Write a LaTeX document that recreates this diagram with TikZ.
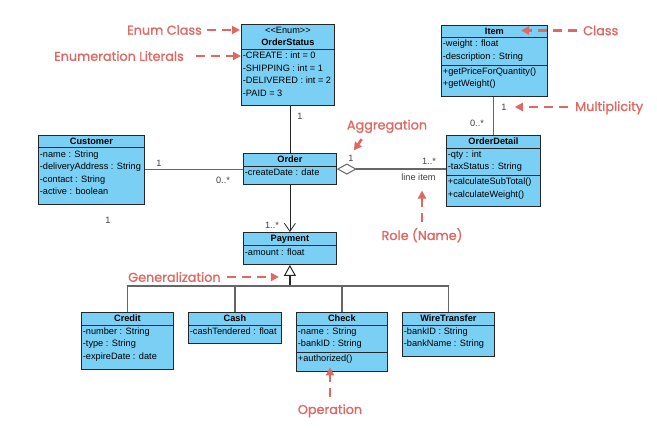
\documentclass[tikz,border=0pt]{standalone}
\usepackage{fontspec}
\setmainfont{Liberation Sans}
\newfontfamily\notefont[FakeBold=1.2]{Poppins}
\usetikzlibrary{shapes.multipart,arrows.meta,positioning}

\definecolor{classfill}{RGB}{122,207,245}
\definecolor{noteline}{RGB}{224,104,98}

% struts for the compartments
\newcommand\hs{\rule[-0.8pt]{0pt}{6.8pt}}
\newcommand\ls{\rule[-2.8pt]{0pt}{8.2pt}}
\newcommand\lls{\rule[-6.8pt]{0pt}{8.2pt}}
\newcommand\stereo{<\kern0pt<Enum>\kern0pt>}

\tikzset{
  umlclass/.style={
    % The shape:
    rectangle split,
    rectangle split parts=2,
    rectangle split part align={center,left,left},
    % The size:
    minimum width=93pt,
    inner xsep=1.5pt,inner ysep=2.2pt,
    % The border:
    draw=black!85,line width=0.8pt,
    % The filling:
    fill=classfill,
    % The text:
    align=left,font=\fontsize{9.2}{12.6}\selectfont,
    anchor=north west},
  mult/.style={
    font=\fontsize{9.2}{11}\selectfont,
    text=black!75,inner sep=0pt},
  note/.style={
    font=\notefont\fontsize{12.8}{15}\selectfont,
    text=noteline,inner sep=0pt},
  notearrow/.style={
    draw=noteline,line width=2.6pt,
    dash pattern=on 9pt off 6pt,
    -{Triangle[length=8pt,width=8pt]}},
  assoc/.style={draw=black!60,line width=1.2pt},
  link/.style={draw=black!85,line width=0.8pt}
}

\begin{document}
\begin{tikzpicture}[x=1pt,y=-1pt]
  \path[use as bounding box,fill=white] (0,0) rectangle (657,443);

  % the classes
  \node (status) [umlclass] at (241,24)
    {\makebox[90pt]{\hs\stereo}\\ \makebox[90pt]{\textbf{OrderStatus}\hs}
     \nodepart{two}\ls-CREATE : int = 0\\
     -SHIPPING : int = 1\\
     -DELIVERED : int = 2\\
     -PAID = 3\lls};
  \node (item) [umlclass,rectangle split parts=3,minimum width=106pt] at (441,25)
    {\hs\textbf{Item}
     \nodepart{two}\ls-weight : float\\
     -description : String\ls
     \nodepart{three}\ls+getPriceForQuantity()\\
     +getWeight()\lls};
  \node (customer) [umlclass,minimum width=106pt] at (38,135)
    {\hs\textbf{Customer}
     \nodepart{two}\ls-name : String\\
     -deliveryAddress : String\\
     -contact : String\\
     -active : boolean\lls};
  \node (order) [umlclass] at (243,153)
    {\hs\textbf{Order}
     \nodepart{two}\lls-createDate : date};
  \node (detail) [umlclass,rectangle split parts=3,minimum width=94pt] at (446,135)
    {\hs\textbf{OrderDetail}
     \nodepart{two}\ls-qty : int\\
     -taxStatus : String\ls
     \nodepart{three}\ls+calculateSubTotal()\\
     +calculateWeight()\lls};
  \node (payment) [umlclass] at (243,232)
    {\hs\textbf{Payment}
     \nodepart{two}\lls-amount : float};
  \node (credit) [umlclass,minimum width=92pt] at (81,312)
    {\hs\textbf{Credit}
     \nodepart{two}\ls-number : String\\
     -type : String\\
     -expireDate : date\lls};
  \node (cash) [umlclass] at (188,312)
    {\hs\textbf{Cash}
     \nodepart{two}\lls-cashTendered : float};
  \node (check) [umlclass,rectangle split parts=3,minimum width=91pt] at (296,312)
    {\hs\textbf{Check}
     \nodepart{two}\ls-name : String\\
     -bankID : String\ls
     \nodepart{three}\lls+authorized()};
  \node (wire) [umlclass,minimum width=92pt] at (402,312)
    {\hs\textbf{WireTransfer}
     \nodepart{two}\ls-bankID : String\\
     -bankName : String\lls};

  % the relations
  \draw[link] (order.north) -- (order.north |- status.south);
  \draw[assoc] (detail.north) -- (detail.north |- item.south);
  \draw[assoc] (customer.east) -- (customer.east -| order.west);
  \draw[assoc,{Diamond[open,length=20pt,width=11pt,line width=1pt]}-]
    (order.east) -- (order.east -| detail.west);
  \draw[link,-{Straight Barb[length=8pt,width=11pt]}] (order.south) -- (payment.north);
  \draw[link,line width=1.4pt,{Triangle[open,length=11pt,width=12pt,line width=1pt]}-]
    (payment.south) -- ++(0,21) coordinate (bus);
  \draw[assoc] (credit.north) |- (bus) -| (wire.north);
  \draw[assoc] (cash.north) -- (cash.north |- bus);
  \draw[assoc] (check.north) -- (check.north |- bus);

  % multiplicities and roles
  \node (statusone) [mult] at (300,116) {1};
  \node (custone) [mult] at (159,163) {1};
  \node (ordermany) [mult] at (223,180) {0..*};
  \node (custextra) [mult] at (108,220) {1};
  \node (paymany) [mult] at (272,225) {1..*};
  \node (aggone) [mult] at (351,158) {1};
  \node (detailmany) [mult] at (429,161) {1..*};
  \node (lineitem) [mult] at (418.5,177) {line item};
  \node (detailzero) [mult] at (477,123) {0..*};
  \node (itemone) [mult] at (504,107) {1};

  % the notes
  \node (enumnote) [note,anchor=east] at (202,30) {Enum Class};
  \draw[notearrow,shorten <=5pt,shorten >=1pt] (enumnote.east) -- (enumnote.east -| status.west);
  \node (literalnote) [note,anchor=east] at (184,56) {Enumeration Literals};
  \draw[notearrow,shorten <=12pt] (literalnote.east) -- (literalnote.east -| status.west);
  \node (classnote) [note,anchor=west] at (583,30.5) {Class};
  \coordinate (itemhead) at (521,30.5);
  \draw[notearrow,shorten <=6pt] (classnote.west) -- (itemhead);
  \node (multnote) [note,anchor=base west] at (575,111) {Multiplicity};
  \draw[notearrow,shorten <=7pt,shorten >=8pt] (itemone -| multnote.west) -- (itemone);
  \node (aggnote) [note,anchor=base] at (387,129.5) {Aggregation};
  \draw[notearrow,shorten >=5pt] ([shift={(15,6)}]aggnote.south west) -- (aggone.north);
  \node (rolenote) [note,anchor=base] at (422,240) {Role (Name)};
  \draw[notearrow,shorten <=6pt,shorten >=10pt] (rolenote.north) -- (rolenote.north |- lineitem.south);
  \node (gennote) [note,anchor=west] at (128,277) {Generalization};
  \draw[notearrow,shorten <=6pt,shorten >=11pt] (gennote.east) -- (gennote.east -| payment.south);
  \node (opnote) [note,anchor=base] at (330,414) {Operation};
  \draw[notearrow,shorten <=7pt,shorten >=-4pt] (opnote.north) -- (opnote.north |- check.south);
\end{tikzpicture}
\end{document}
